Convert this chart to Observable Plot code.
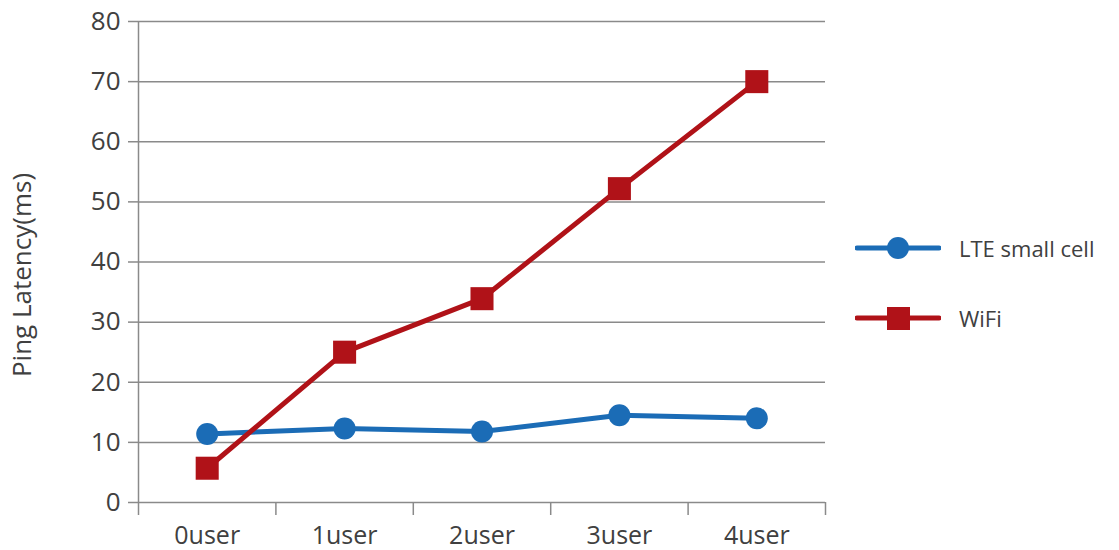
<!DOCTYPE html>
<html>
<head>
<meta charset="utf-8">
<script src="https://cdn.jsdelivr.net/npm/d3@7"></script>
<script src="https://cdn.jsdelivr.net/npm/@observablehq/plot@0.6"></script>
<style>
  html, body { margin: 0; padding: 0; background: #fff; }
  #wrap { position: relative; width: 1119px; height: 550px; font-family: "Open Sans", sans-serif; color: #404040; }
  #legend { position: absolute; left: 855px; top: 230px; font-size: 22px; }
  .item { display: flex; align-items: center; height: 36px; margin-bottom: 34px; }
  .item svg { margin-right: 18px; }
</style>
</head>
<body>
<div id="wrap"></div>
<script>
// Ping latency per number of concurrent users
const categories = ["0user", "1user", "2user", "3user", "4user"];
const lteValues = [11.4, 12.3, 11.8, 14.5, 14.0];
const wifiValues = [5.7, 25.0, 33.9, 52.2, 70.0];
const seriesNames = ["LTE small cell", "WiFi"];
const seriesColors = ["#1b6cb6", "#b01218"];
const yTicks = [0, 10, 20, 30, 40, 50, 60, 70, 80];
const yTitle = "Ping Latency(ms)";

const rows = (name, values) => values.map((v, i) => ({series: name, i, value: v}));
const lte = rows(seriesNames[0], lteValues);
const wifi = rows(seriesNames[1], wifiValues);
const idx = categories.map((_, i) => i);
const bounds = [...idx.map(i => i - 0.5), categories.length - 0.5];

const chart = Plot.plot({
  width: 840,
  height: 550,
  marginLeft: 138,
  marginRight: 15,
  marginTop: 21,
  marginBottom: 48,
  style: {fontFamily: "Open Sans, sans-serif", fontSize: "26px", color: "#404040", background: "white", overflow: "visible"},
  x: {domain: [-0.5, categories.length - 0.5]},
  y: {domain: [0, 80]},
  marks: [
    Plot.ruleY(yTicks, {stroke: "#8a8a8a", strokeWidth: 1.5}),
    Plot.ruleX([bounds[0]], {stroke: "#8a8a8a", strokeWidth: 1.5}),
    Plot.axisY({ticks: yTicks, tickSize: 10, tickPadding: 8, stroke: "#8a8a8a", strokeWidth: 1.5, fill: "#404040", label: null}),
    Plot.text([yTitle], {frameAnchor: "left", rotate: -90, dx: -116, dy: 13, fontSize: 26, fill: "#404040", textAnchor: "middle", lineAnchor: "middle"}),
    Plot.axisX({ticks: bounds, tickSize: 13, tickFormat: () => "", stroke: "#8a8a8a", strokeWidth: 1.5, label: null}),
    Plot.axisX({ticks: idx, tickSize: 0, tickPadding: 24, fontSize: 25, tickFormat: i => categories[i], fill: "#404040", label: null}),
    Plot.line(lte, {x: "i", y: "value", stroke: seriesColors[0], strokeWidth: 5}),
    Plot.dot(lte, {x: "i", y: "value", r: 11, fill: seriesColors[0], symbol: "circle"}),
    Plot.line(wifi, {x: "i", y: "value", stroke: seriesColors[1], strokeWidth: 5}),
    Plot.dot(wifi, {x: "i", y: "value", r: 13, fill: seriesColors[1], symbol: "square"})
  ]
});

const wrap = document.getElementById("wrap");
wrap.appendChild(chart);

// Legend with line + marker swatches
const legend = document.createElement("div");
legend.id = "legend";
seriesNames.forEach((name, k) => {
  const item = document.createElement("div");
  item.className = "item";
  const sw = k === 0
    ? `<circle cx="43" cy="18" r="11" fill="${seriesColors[k]}"/>`
    : `<rect x="32" y="7" width="23" height="23" fill="${seriesColors[k]}"/>`;
  item.innerHTML = `<svg width="86" height="36"><line x1="2" x2="84" y1="18" y2="18" stroke="${seriesColors[k]}" stroke-width="5" stroke-linecap="round"/>${sw}</svg><span>${name}</span>`;
  legend.appendChild(item);
});
wrap.appendChild(legend);
</script>
</body>
</html>
